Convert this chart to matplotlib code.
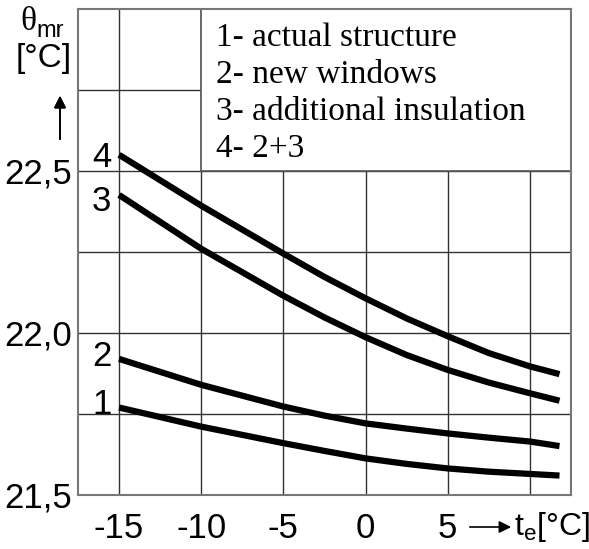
import matplotlib
matplotlib.use("Agg")
import matplotlib.pyplot as plt
from matplotlib.patches import Rectangle

# data
te = [-15, -10, -5, -2.5, 0, 2.5, 5, 7.5, 10, 11.8]
curve1 = [21.77, 21.711, 21.66, 21.636, 21.613, 21.596, 21.582, 21.572, 21.565, 21.56]
curve2 = [21.92, 21.84, 21.773, 21.745, 21.721, 21.705, 21.69, 21.677, 21.665, 21.651]
curve3 = [22.426, 22.26, 22.115, 22.048, 21.987, 21.932, 21.886, 21.847, 21.814, 21.791]
curve4 = [22.55, 22.393, 22.245, 22.173, 22.107, 22.045, 21.99, 21.938, 21.897, 21.873]
curve_names = ["1", "2", "3", "4"]
legend_lines = ["1- actual structure", "2- new windows",
                "3- additional insulation", "4- 2+3"]

x_ticks = [-15, -10, -5, 0, 5, 10]
x_labels = ["-15", "-10", "-5", "0", "5", ""]
y_ticks = [21.5, 21.75, 22.0, 22.25, 22.5, 22.75]
y_labels = ["21,5", "", "22,0", "", "22,5", ""]

plt.rcParams["font.family"] = ["Liberation Sans", "DejaVu Sans"]
plt.rcParams["mathtext.fontset"] = "custom"
plt.rcParams["mathtext.rm"] = "Liberation Sans"

W, H = 589, 549
fig = plt.figure(figsize=(W / 100, H / 100), dpi=100)
ax = fig.add_axes([78 / W, 1 - 495 / H, (571 - 78) / W, (495 - 9) / H])


def px(x, y):
    return x / W, 1 - y / H


ax.set_xlim(-17.5, 12.5)
ax.set_ylim(21.5, 23.0)
ax.set_xticks(x_ticks)
ax.set_xticklabels(x_labels)
ax.set_yticks(y_ticks)
ax.set_yticklabels(y_labels)
ax.tick_params(length=0, labelsize=25, colors="black")
ax.tick_params(axis="x", pad=12)
ax.tick_params(axis="y", pad=4)
ax.set_axisbelow(True)
ax.grid(True, color="#333333", linewidth=1.0)
for s in ax.spines.values():
    s.set_color("#777777")
    s.set_linewidth(1.5)

# legend box hides the grid behind it
ax.add_patch(Rectangle((-10, 22.5), 22.5, 0.5, facecolor="white",
                       edgecolor="#555555", linewidth=1.2, zorder=1))

for ys in [curve1, curve2, curve3, curve4]:
    ax.plot(te, ys, color="black", linewidth=4.5, solid_capstyle="butt",
            solid_joinstyle="round", zorder=3)

label_y = [21.78, 21.926, 22.407, 22.543]
for name, yv in zip(curve_names, label_y):
    ax.text(-16.05, yv, name, fontsize=25, ha="center", va="center")

for i, line in enumerate(legend_lines):
    fig.text(*px(216, 38 + i * 37), line, fontsize=24,
             family="Liberation Serif", ha="left", va="center")

# y axis label
fig.text(*px(28, 22), "θ", fontsize=24, family="Liberation Serif",
         ha="center", va="center")
fig.text(*px(50, 31), "mr", fontsize=17, ha="center", va="center")
fig.text(*px(44, 59), "[°C]", fontsize=24, ha="center", va="center")
fig.add_artist(plt.annotate("", xy=px(60, 93), xytext=px(60, 142),
                            xycoords="figure fraction",
                            textcoords="figure fraction",
                            arrowprops=dict(arrowstyle="-|>", color="black",
                                            lw=1.2, mutation_scale=18)))

# x axis label
ax.annotate("", xy=px(514, 527), xytext=px(467, 527),
            xycoords="figure fraction", textcoords="figure fraction",
            arrowprops=dict(arrowstyle="-|>", color="black", lw=1.2,
                            mutation_scale=18))
fig.text(*px(514, 527), r"$\mathrm{t_e}$[°C]", fontsize=23,
         ha="left", va="center")

fig.savefig("out.png", dpi=100)
